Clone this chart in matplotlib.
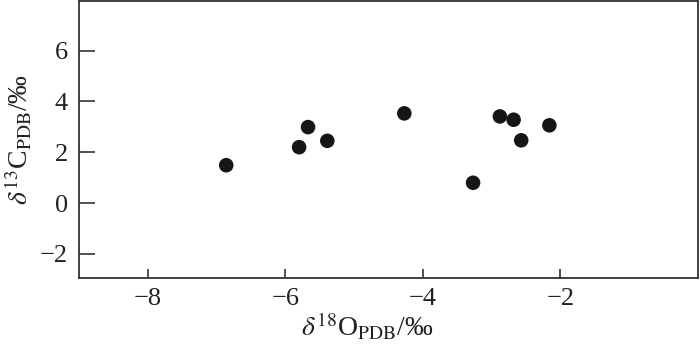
import matplotlib
matplotlib.use("Agg")
from matplotlib import pyplot as plt

# d18O and d13C (permil, PDB)
d18o = [-6.86, -5.80, -5.67, -5.39, -4.27, -3.27, -2.88, -2.68, -2.57, -2.16]
d13c = [1.49, 2.20, 2.99, 2.45, 3.53, 0.80, 3.41, 3.28, 2.47, 3.06]

x_ticks = [-8, -6, -4, -2]
y_ticks = [-2, 0, 2, 4, 6]

plt.rcParams["font.family"] = ["Liberation Serif", "DejaVu Serif"]
plt.rcParams["mathtext.fontset"] = "stix"

fig = plt.figure(figsize=(7, 3.45), dpi=100)
ax = fig.add_axes([0.113, 0.194, 0.884, 0.803])

ax.scatter(d18o, d13c, s=110, color="#161616", edgecolors="none", zorder=3)

ax.set_xlim(-9, 0)
ax.set_ylim(-2.95, 7.95)
ax.set_xticks(x_ticks)
ax.set_yticks(y_ticks)
ax.set_xticklabels([f"\u2212{abs(v)}" for v in x_ticks])
ax.set_yticklabels([f"\u2212{abs(v)}" if v < 0 else str(v) for v in y_ticks])

for s in ax.spines.values():
    s.set_color("#333333")
    s.set_linewidth(1.3)

ax.tick_params(axis="both", direction="in", color="#333333", width=1.2,
               labelsize=19, labelcolor="#222222")
ax.tick_params(axis="y", length=11.5, pad=8)
ax.tick_params(axis="x", length=6.5, pad=7)

ax.set_xlabel(r"$\delta^{18}$O$_{\mathrm{PDB}}$/‰", fontsize=20, color="#222222", labelpad=1)
ax.xaxis.label.set_x(0.465)
ax.set_ylabel(r"$\delta^{13}$C$_{\mathrm{PDB}}$/‰", fontsize=20, color="#222222", labelpad=4)

fig.savefig("out.png", dpi=100)
plt.close(fig)
